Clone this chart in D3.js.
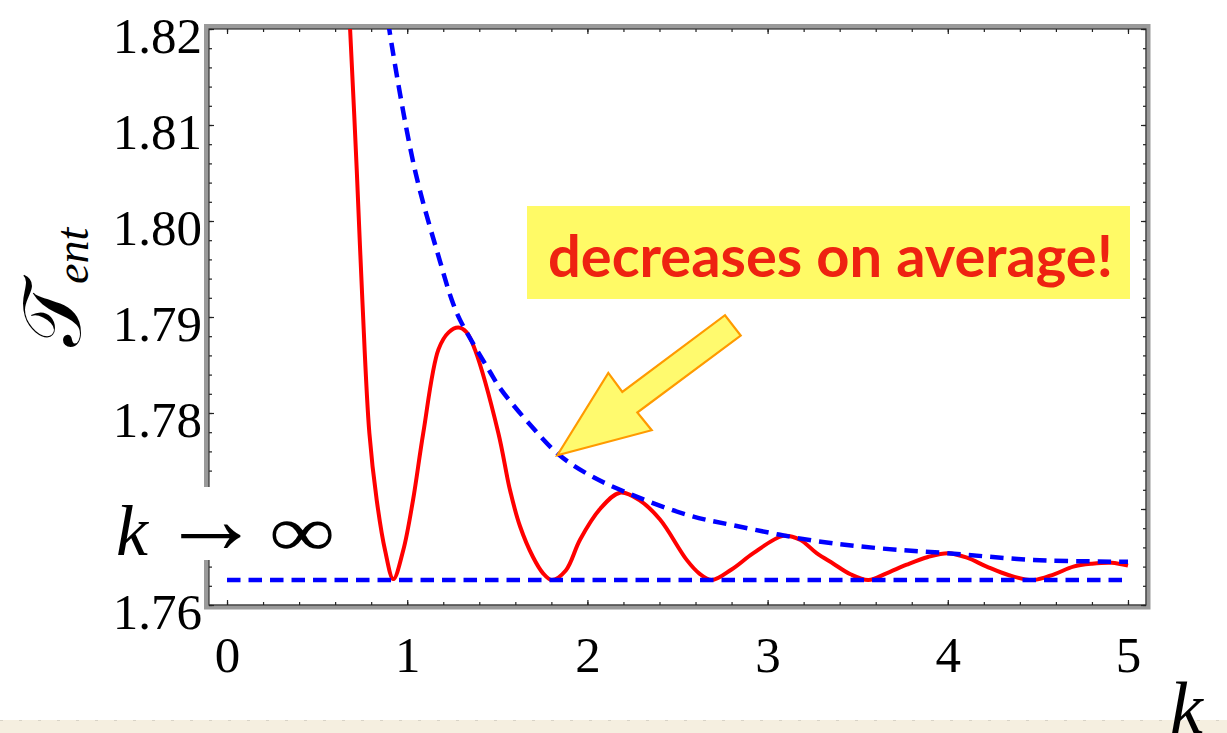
<html>
<head>
<script src="https://cdn.jsdelivr.net/npm/d3@7"></script>
<style>
  body { margin: 0; background: #fff; }
</style>
</head>
<body>
<div id="chart"></div>
<script>
// tick values of the two axes
var xTicks = [0, 1, 2, 3, 4, 5];
var yTicks = [1.76, 1.77, 1.78, 1.79, 1.80, 1.81, 1.82];

// red curve, tau_ent against k
var redK = [0.672, 0.683, 0.720, 0.751, 0.790, 0.831, 0.877, 0.923, 0.978, 1.032, 1.089, 1.173, 1.230, 1.284, 1.330,
            1.376, 1.506, 1.570, 1.626, 1.698, 1.754, 1.802, 1.880, 1.959, 2.070, 2.181, 2.290, 2.403, 2.551,
            2.620, 2.690, 2.800, 2.921, 3.087, 3.180, 3.272, 3.365, 3.460, 3.559, 3.660, 3.772, 3.890, 4.003, 4.110,
            4.216, 4.340, 4.475, 4.590, 4.697, 4.800, 4.909, 5.000];
var redT = [1.8235, 1.8200, 1.8053, 1.7918, 1.7779, 1.7709, 1.7657, 1.7627, 1.7657, 1.7709, 1.7779, 1.7866, 1.7884, 1.7889, 1.7884,
            1.7866, 1.7779, 1.7720, 1.7682, 1.7650, 1.7633, 1.7626, 1.7636, 1.7668, 1.7700, 1.7717, 1.7709, 1.7689, 1.7647,
            1.7633, 1.7626, 1.7637, 1.7654, 1.7672, 1.7668, 1.7654, 1.7643, 1.7632, 1.7626, 1.7633, 1.7642, 1.7650, 1.7654, 1.7649,
            1.7640, 1.7631, 1.7626, 1.7632, 1.7640, 1.7643, 1.7644, 1.7641];

// blue dashed envelope over the maxima
var envK = [0.880, 0.901, 1.043, 1.182, 1.247, 1.293, 1.459, 1.515, 1.681, 1.839, 1.996, 2.181, 2.551, 2.810,
            3.254, 3.624, 3.994, 4.475, 5.000];
var envT = [1.8230, 1.8199, 1.8053, 1.7958, 1.7918, 1.7897, 1.7843, 1.7826, 1.7788, 1.7757, 1.7737, 1.7720, 1.7694, 1.7683,
            1.7667, 1.7659, 1.7654, 1.7647, 1.7645];

// blue dashed k -> infinity limit
var limK = [0, 5];
var limT = [1.7626, 1.7626];

var noteText = "decreases on average!";
// where the arrow points (k, tau)
var arrowTip = [1.833, 1.7756];

var width = 1227, height = 733;
var pLeft = 209, pRight = 1146, pTop = 29, pBottom = 605;

var svg = d3.select("#chart").append("svg")
    .attr("width", width)
    .attr("height", height)
    .style("display", "block");

var x = d3.scaleLinear().domain([-0.1, 5.1]).range([pLeft, pRight]);
var y = d3.scaleLinear().domain([1.76, 1.82]).range([pBottom, pTop]);

var serif = "'Liberation Serif', 'Times New Roman', serif";

// bottom strip of the slide
svg.append("rect").attr("x", 0).attr("y", 720).attr("width", width).attr("height", 13).attr("fill", "#f5efe0");
svg.append("line").attr("x1", 0).attr("x2", width).attr("y1", 720.5).attr("y2", 720.5)
    .attr("stroke", "#d8d3c6").attr("stroke-width", 1).attr("stroke-dasharray", "3,16");

// frame: grey band with a dark edge inside
svg.append("rect")
    .attr("x", pLeft - 2.5).attr("y", pTop - 2.5)
    .attr("width", pRight - pLeft + 4.5).attr("height", pBottom - pTop + 4.5)
    .attr("fill", "#fff").attr("stroke", "#9a9a9a").attr("stroke-width", 5);
svg.append("rect")
    .attr("x", pLeft).attr("y", pTop)
    .attr("width", pRight - pLeft).attr("height", pBottom - pTop)
    .attr("fill", "none").attr("stroke", "#333").attr("stroke-width", 1.2);

// ticks
var xMinor = d3.range(0, 5.001, 0.2);
var yMinor = d3.range(1.76, 1.8201, 0.002);

function drawAxis(axis, tx, ty) {
    var g = svg.append("g").attr("transform", "translate(" + tx + "," + ty + ")").call(axis);
    g.select(".domain").remove();
    g.selectAll(".tick line").attr("stroke", "#222").attr("stroke-width", 1.2);
    return g;
}

drawAxis(d3.axisBottom(x).tickValues(xMinor).tickSize(-3).tickFormat(""), 0, pBottom);
drawAxis(d3.axisTop(x).tickValues(xMinor).tickSize(-3).tickFormat(""), 0, pTop);
drawAxis(d3.axisLeft(y).tickValues(yMinor).tickSize(-3).tickFormat(""), pLeft, 0);
drawAxis(d3.axisRight(y).tickValues(yMinor).tickSize(-3).tickFormat(""), pRight, 0);
drawAxis(d3.axisTop(x).tickValues(xTicks).tickSize(-5).tickFormat(""), 0, pTop);
drawAxis(d3.axisRight(y).tickValues(yTicks).tickSize(-5).tickFormat(""), pRight, 0);

var xAx = drawAxis(d3.axisBottom(x).tickValues(xTicks).tickSize(-5).tickPadding(31).tickFormat(d3.format("d")), 0, pBottom);
xAx.selectAll("text").attr("font-family", serif).attr("font-size", 51).attr("fill", "#000");

var yAx = drawAxis(d3.axisLeft(y).tickValues(yTicks).tickSize(-5).tickPadding(7).tickFormat(d3.format(".2f")), pLeft, 0);
yAx.selectAll("text").attr("font-family", serif).attr("font-size", 51).attr("fill", "#000").attr("dy", "0.46em");

// curves
svg.append("clipPath").attr("id", "plotclip").append("rect")
    .attr("x", pLeft).attr("y", pTop).attr("width", pRight - pLeft).attr("height", pBottom - pTop);

var line = d3.line()
    .x(function(d) { return x(d[0]); })
    .y(function(d) { return y(d[1]); })
    .curve(d3.curveCatmullRom.alpha(0.5));

var plot = svg.append("g").attr("clip-path", "url(#plotclip)");

plot.append("path")
    .datum(d3.zip(redK, redT))
    .attr("d", line)
    .attr("fill", "none").attr("stroke", "#ff0000").attr("stroke-width", 4);

plot.append("path")
    .datum(d3.zip(envK, envT))
    .attr("d", line)
    .attr("fill", "none").attr("stroke", "#0000ff").attr("stroke-width", 4.5)
    .attr("stroke-dasharray", "13.5,8");

plot.append("path")
    .datum(d3.zip(limK, limT))
    .attr("d", line)
    .attr("fill", "none").attr("stroke", "#0000ff").attr("stroke-width", 4.5)
    .attr("stroke-dasharray", "13.5,8");

// k -> infinity label, on a white patch over the left axis
svg.append("rect").attr("x", 100).attr("y", 487).attr("width", 246).attr("height", 73).attr("fill", "#fff");
svg.append("text").attr("x", 116).attr("y", 555)
    .attr("font-family", serif).attr("font-style", "italic").attr("font-size", 72).text("k");
svg.append("text").attr("x", 211).attr("y", 553).attr("text-anchor", "middle")
    .attr("font-family", serif).attr("font-size", 100).text("\u2192");
svg.append("text").attr("x", 302).attr("y", 556).attr("text-anchor", "middle")
    .attr("font-family", serif).attr("font-size", 72)
    .attr("textLength", 66).attr("lengthAdjust", "spacingAndGlyphs").text("\u221e");

// y title
var yTitle = svg.append("text")
    .attr("transform", "translate(80,347) rotate(-90)")
    .attr("font-family", serif);
yTitle.append("tspan").attr("font-size", 82).text("\ud835\udcaf");
yTitle.append("tspan").attr("font-size", 46).attr("font-style", "italic").attr("dy", 8).text("ent");

// x title at the bottom corner
svg.append("text").attr("x", 1170).attr("y", 733)
    .attr("font-family", serif).attr("font-style", "italic").attr("font-size", 74).text("k");

// note box
svg.append("rect").attr("x", 527).attr("y", 206).attr("width", 603).attr("height", 93).attr("fill", "#fffa66");
svg.append("text").attr("x", 548).attr("y", 277)
    .attr("font-family", "Lato, 'Open Sans', sans-serif").attr("font-weight", "bold")
    .attr("font-size", 58).attr("fill", "#ee2211")
    .attr("textLength", 565).attr("lengthAdjust", "spacingAndGlyphs")
    .text(noteText);

// arrow pointing at the envelope
var tx = x(arrowTip[0]), ty = y(arrowTip[1]);
var arrowShape = [[0, 0], [51, -82.3], [65, -63.3], [167.7, -140], [183.4, -119.7], [80, -42.7], [94.4, -25]];
svg.append("polygon")
    .attr("points", arrowShape.map(function(p) { return (tx + p[0]) + "," + (ty + p[1]); }).join(" "))
    .attr("fill", "#fffa6e").attr("stroke", "#ff9a00").attr("stroke-width", 2.2)
    .attr("stroke-linejoin", "miter");
</script>
</body>
</html>
